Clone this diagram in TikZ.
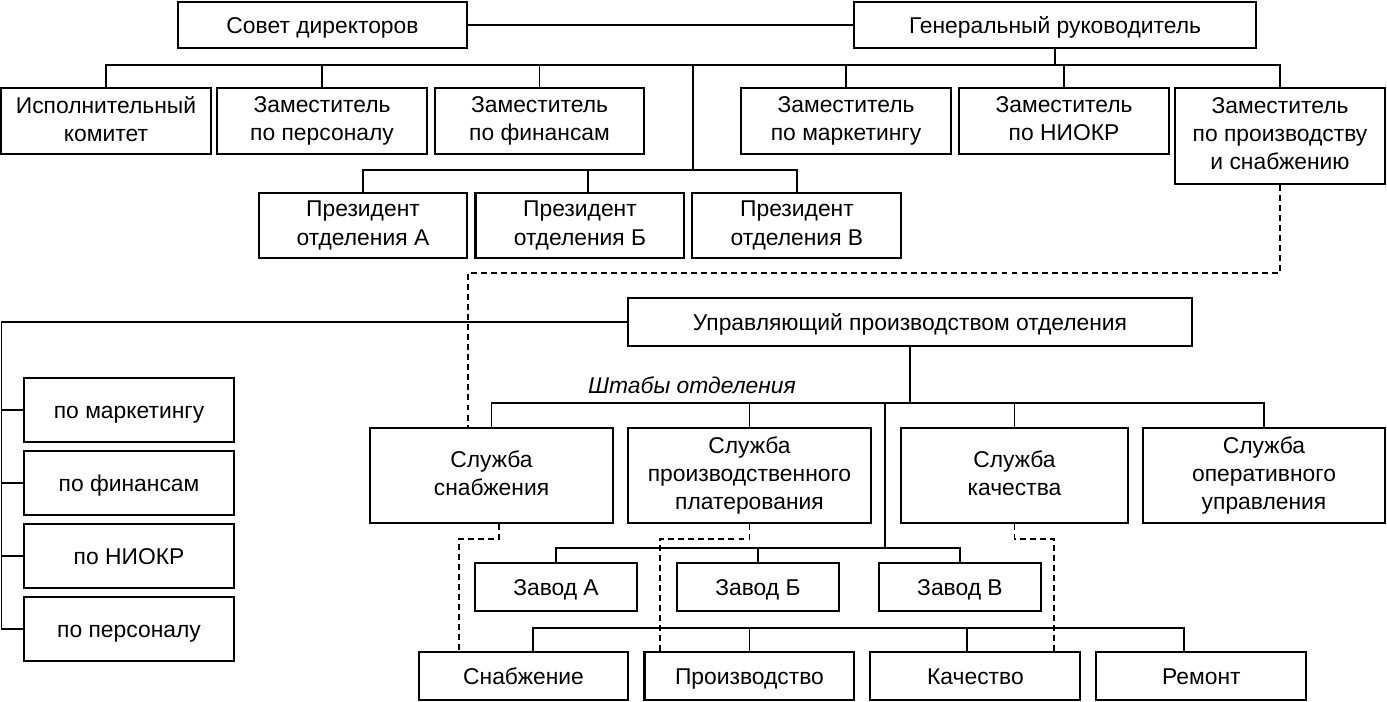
\documentclass[tikz,border=0pt]{standalone}
\usepackage{fontspec}
\setmainfont{Liberation Sans}
\usetikzlibrary{positioning}
\newcommand{\unitstrut}{\rule[-2.7pt]{0pt}{14.7pt}}
\tikzstyle{unit} = [rectangle, draw=black, line width=1.15pt, align=center, inner sep=0pt, font=\fontsize{13}{16}\selectfont, execute at begin node=\unitstrut, execute at end node=\unitstrut]
\tikzstyle{head} = [unit, minimum height=0.92cm]
\tikzstyle{deputy} = [unit, minimum width=4.2cm, minimum height=1.32cm]
\tikzstyle{president} = [unit, minimum width=4.18cm, minimum height=1.3cm]
\tikzstyle{local} = [unit, minimum width=4.2cm, minimum height=1.28cm]
\tikzstyle{staff} = [unit, minimum width=4.86cm, minimum height=1.9cm]
\tikzstyle{plant} = [unit, minimum width=3.24cm, minimum height=0.96cm]
\tikzstyle{shop} = [unit, minimum width=4.2cm, minimum height=0.96cm]
\tikzstyle{link} = [line width=1pt]
\tikzstyle{dashline} = [line width=1pt, dash pattern=on 3.4pt off 2.3pt]

\begin{document}
\begin{tikzpicture}[x=0.02cm, y=-0.02cm]
\useasboundingbox (0,0) rectangle (1387,701);

% Top management
\node (board) [head, minimum width=5.78cm] at (322.5,25) {Совет директоров};
\node (ceo) [head, minimum width=8.04cm] at (1055,25) {Генеральный руководитель};

\node (exec) [deputy] at (106,121) {Исполнительный\\комитет};
\node (dep-hr) [deputy] at (322,121) {Заместитель\\по персоналу};
\node (dep-fin) [deputy] at (539.5,121) {Заместитель\\по финансам};
\node (dep-mkt) [deputy] at (846,121) {Заместитель\\по маркетингу};
\node (dep-rnd) [deputy] at (1064,121) {Заместитель\\по НИОКР};
\node (dep-prod) [deputy, minimum height=1.92cm] at (1280,136) {Заместитель\\по производству\\и снабжению};

\node (pres-a) [president] at (363,225.5) {Президент\\отделения А};
\node (pres-b) [president, right=0.12cm of pres-a] {Президент\\отделения Б};
\node (pres-c) [president, right=0.12cm of pres-b] {Президент\\отделения В};

% Division
\node (upr) [unit, minimum width=11.28cm, minimum height=0.96cm] at (910,322) {Управляющий производством отделения};

\node (loc-mkt) [local] at (129,410) {по маркетингу};
\node (loc-fin) [local, below=0.14cm of loc-mkt] {по финансам};
\node (loc-rnd) [local, below=0.14cm of loc-fin] {по НИОКР};
\node (loc-hr) [local, below=0.14cm of loc-rnd] {по персоналу};

\node (staff-label) [font=\fontsize{13}{16}\selectfont\itshape] at (692,385) {Штабы отделения};

\node (srv-supply) [staff] at (491.5,475.5) {Служба\\снабжения};
\node (srv-plan) [staff] at (749.5,475.5) {Служба\\производственного\\платерования};
\node (srv-qual) [staff, minimum width=4.54cm] at (1014.5,475.5) {Служба\\качества};
\node (srv-ops) [staff, minimum width=4.84cm] at (1264,475.5) {Служба\\оперативного\\управления};

\node (plant-a) [plant] at (556,587) {Завод А};
\node (plant-b) [plant, right=0.76cm of plant-a] {Завод Б};
\node (plant-c) [plant, right=0.76cm of plant-b] {Завод В};

\node (sup) [shop] at (523.5,676) {Снабжение};
\node (prd) [shop, right=0.28cm of sup] {Производство};
\node (qlt) [shop, right=0.28cm of prd] {Качество};
\node (rep) [shop, right=0.28cm of qlt] {Ремонт};

% Lines
\coordinate (top-bus) at (1055,65);
\coordinate (pres-bus) at (693,170);
\coordinate (pres-b-drop) at (588,170);
\coordinate (left-bus) at (1.5,322);
\coordinate (staff-bus) at (910,403);
\coordinate (plant-bus) at (885,548);
\coordinate (shop-bus-w) at (533,628);
\coordinate (shop-bus-e) at (1184,628);
\coordinate (qlt-drop) at (967,628);

\draw [link] (board) -- (ceo);
\draw [link] (ceo) -- (top-bus);
\draw [link] (exec.north) |- (dep-prod.north |- top-bus) -- (dep-prod.north);
\draw [link] (dep-hr) -- (dep-hr |- top-bus);
\draw [link] (dep-fin) -- (dep-fin |- top-bus);
\draw [link] (dep-mkt) -- (dep-mkt |- top-bus);
\draw [link] (dep-rnd) -- (dep-rnd |- top-bus);

\draw [link] (pres-bus |- top-bus) -- (pres-bus);
\draw [link] (pres-a.north) |- (pres-c.north |- pres-bus) -- (pres-c.north);
\draw [link] (pres-b-drop) -- (pres-b-drop |- pres-b.north);

\draw [link] (upr.west) -- (left-bus) |- (loc-hr.west);
\draw [link] (left-bus |- loc-mkt.west) -- (loc-mkt.west);
\draw [link] (left-bus |- loc-fin.west) -- (loc-fin.west);
\draw [link] (left-bus |- loc-rnd.west) -- (loc-rnd.west);

\draw [link] (upr) -- (staff-bus);
\draw [link] (srv-supply.north) |- (srv-ops.north |- staff-bus) -- (srv-ops.north);
\draw [link] (srv-plan) -- (srv-plan |- staff-bus);
\draw [link] (srv-qual) -- (srv-qual |- staff-bus);

\draw [link] (plant-bus |- staff-bus) -- (plant-bus);
\draw [link] (plant-a.north) |- (plant-c.north |- plant-bus) -- (plant-c.north);
\draw [link] (plant-b) -- (plant-b |- plant-bus);

\draw [link] (shop-bus-w |- sup.north) -- (shop-bus-w) -- (shop-bus-e) -- (shop-bus-e |- rep.north);
\draw [link] (prd) -- (prd |- shop-bus-w);
\draw [link] (qlt-drop) -- (qlt-drop |- qlt.north);

% Dashed links
\coordinate (supply-turn) at (468,273);
\coordinate (sup-turn) at (459,539);
\coordinate (prd-turn) at (660,539);
\coordinate (qlt-turn) at (1054,539);

\draw [dashline] (dep-prod.south) |- (supply-turn) -- (supply-turn |- srv-supply.north);
\draw [dashline] ([xshift=0.15cm]srv-supply.south) |- (sup-turn) -- (sup-turn |- sup.north);
\draw [dashline] (srv-plan.south) |- (prd-turn) -- (prd-turn |- prd.north);
\draw [dashline] (srv-qual.south) |- (qlt-turn) -- (qlt-turn |- qlt.north);

\end{tikzpicture}
\end{document}
